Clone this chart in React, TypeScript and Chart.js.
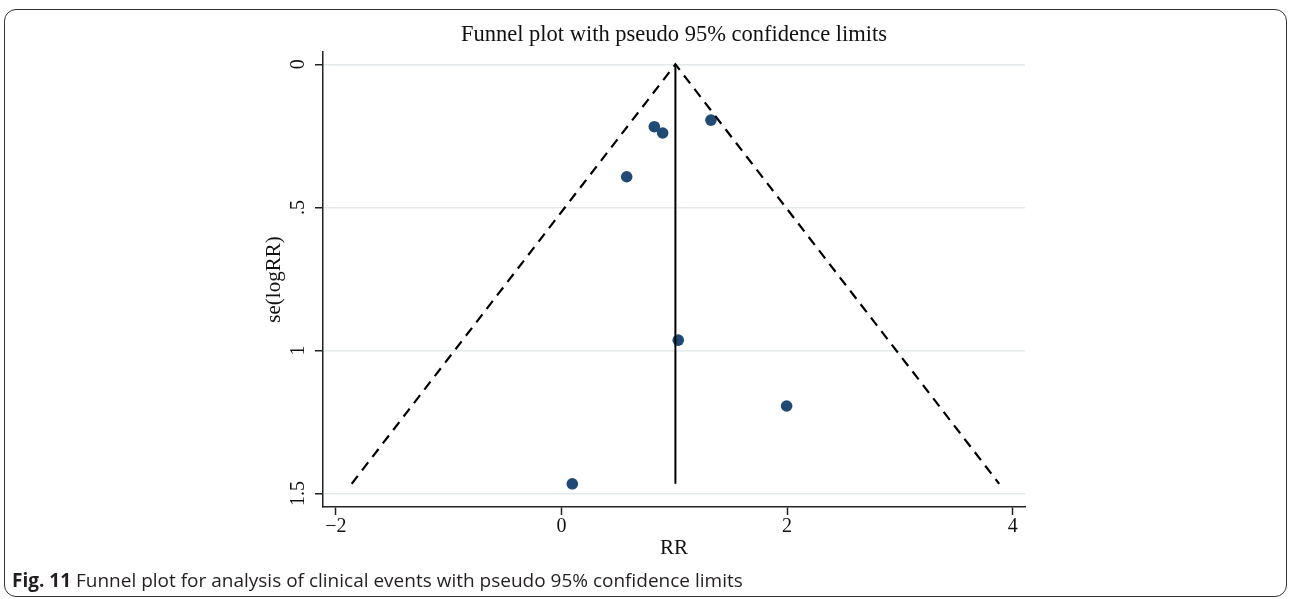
import React, { useEffect, useRef } from 'react';
import { Chart, registerables } from 'chart.js';

Chart.register(...registerables);

// ---- data ----
const studyRR = [1.325, 0.823, 0.897, 0.578, 1.035, 1.996, 0.096];
const studySE = [0.195, 0.218, 0.24, 0.393, 0.964, 1.194, 1.466];
const pooledRR = [1.01, 1.01];
const pooledSE = [0, 1.466];
const funnelRR = [-1.86, 1.01, 3.88];
const funnelSE = [1.466, 0, 1.466];
const xTickValues = [-2, 0, 2, 4];
const xTickLabels = ['\u22122', '0', '2', '4'];
const yTickValues = [0, 0.5, 1, 1.5];
const yTickLabels = ['0', '.5', '1', '1.5'];
const chartTitle = 'Funnel plot with pseudo 95% confidence limits';
const xTitle = 'RR';
const yTitle = 'se(logRR)';
const captionBold = 'Fig. 11';
const captionText = ' Funnel plot for analysis of clinical events with pseudo 95% confidence limits';

const SERIF = '"Liberation Serif", "Times New Roman", serif';

export default function App() {
  const canvasRef = useRef<HTMLCanvasElement | null>(null);

  useEffect(() => {
    document.body.style.margin = '0';
    const canvas = canvasRef.current;
    if (!canvas) return;
    const pts = (xs: number[], ys: number[]) => xs.map((x, i) => ({ x, y: ys[i] }));
    const chart = new Chart(canvas, {
      type: 'scatter',
      data: {
        datasets: [
          {
            label: 'pooled',
            data: pts(pooledRR, pooledSE),
            showLine: true,
            borderColor: '#000',
            borderWidth: 2,
            pointRadius: 0,
            fill: false,
          },
          {
            label: 'funnel',
            data: pts(funnelRR, funnelSE),
            showLine: true,
            borderColor: '#000',
            borderWidth: 2.2,
            borderDash: [10, 7],
            pointRadius: 0,
            fill: false,
          },
          {
            label: 'studies',
            data: pts(studyRR, studySE),
            pointRadius: 5.8,
            pointBackgroundColor: '#1f4a76',
            pointBorderColor: '#1f4a76',
            pointBorderWidth: 0,
            showLine: false,
          },
        ],
      },
      options: {
        responsive: false,
        devicePixelRatio: 1,
        animation: false,
        layout: { padding: { left: 250, right: 265, top: 0, bottom: 0 } },
        plugins: {
          legend: { display: false },
          tooltip: { enabled: false },
          title: {
            display: true,
            text: chartTitle,
            fullSize: false,
            color: '#111',
            font: { family: SERIF, size: 22.5, weight: 'normal', lineHeight: 1.2 },
            padding: { top: 21.5, bottom: 3.5 },
          },
        },
        scales: {
          x: {
            type: 'linear',
            min: -2.114,
            max: 4.109,
            afterFit: (s: any) => {
              s.height = 92;
            },
            afterBuildTicks: (s: any) => {
              s.ticks = xTickValues.map((v) => ({ value: v }));
            },
            ticks: {
              callback: (v: any) => xTickLabels[xTickValues.indexOf(Number(v))] ?? '',
              color: '#111',
              font: { family: SERIF, size: 20 },
              padding: 0,
              maxRotation: 0,
              minRotation: 0,
              autoSkip: false,
            },
            grid: {
              drawOnChartArea: false,
              tickColor: '#222',
              tickLength: 8,
              tickWidth: 1.5,
            },
            border: { display: true, color: '#222', width: 1.5 },
            title: {
              display: true,
              text: xTitle,
              color: '#111',
              font: { family: SERIF, size: 21 },
              padding: { top: 0, bottom: 38 },
            },
          },
          y: {
            type: 'linear',
            reverse: true,
            min: -0.043,
            max: 1.547,
            afterFit: (s: any) => {
              s.width = 73;
            },
            afterBuildTicks: (s: any) => {
              s.ticks = yTickValues.map((v) => ({ value: v }));
            },
            ticks: {
              callback: (v: any) => yTickLabels[yTickValues.indexOf(Number(v))] ?? '',
              color: '#111',
              font: { family: SERIF, size: 20 },
              padding: 4,
              minRotation: 90,
              maxRotation: 90,
              crossAlign: 'center',
              autoSkip: false,
            },
            grid: {
              color: '#e4eaec',
              lineWidth: 1.5,
              tickColor: '#222',
              tickLength: 8,
              tickWidth: 1.5,
            },
            border: { display: true, color: '#222', width: 1.5 },
            title: {
              display: true,
              text: yTitle,
              color: '#111',
              font: { family: SERIF, size: 21 },
              padding: { top: 12, bottom: 0 },
            },
          },
        },
      },
    } as any);
    return () => chart.destroy();
  }, []);

  return (
    <div style={{ position: 'absolute', left: 0, top: 0, width: 1290, height: 599, background: '#fff', overflow: 'hidden' }}>
      <div
        style={{
          position: 'absolute',
          left: 4,
          top: 9,
          width: 1283,
          height: 588,
          border: '1.5px solid #333',
          borderRadius: 12,
          boxSizing: 'border-box',
        }}
      />
      <canvas ref={canvasRef} width={1290} height={599} style={{ position: 'absolute', left: 0, top: 0, width: 1290, height: 599 }} />
      <div
        style={{
          position: 'absolute',
          left: 12,
          top: 568,
          fontFamily: '"Open Sans", "Noto Sans", sans-serif',
          fontSize: 19,
          lineHeight: '24px',
          color: '#231f20',
          whiteSpace: 'nowrap',
        }}
      >
        <b>{captionBold}</b>
        {captionText}
      </div>
    </div>
  );
}
